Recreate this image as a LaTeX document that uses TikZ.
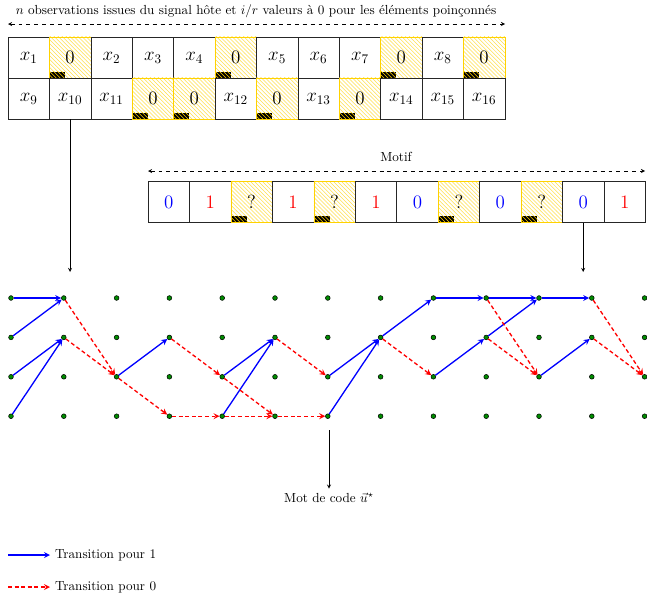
\documentclass[tikz,border=0pt]{standalone}
\usepackage{fontspec}
\usepackage{amsmath,amssymb}
\usepackage{xcolor}
\usepackage{tikz}
\usetikzlibrary{shapes,positioning,patterns}
\definecolor{gold}{RGB}{255,210,0}
\tikzset{cell/.style={rectangle,draw=black!85,minimum width=31.5pt,minimum height=31.2pt,inner sep=0pt,font=\Large},
  poinc/.style={cell,draw=gold,pattern=north west lines,pattern color=gold!70,
    path picture={\fill[black] (path picture bounding box.south west) rectangle ++(12pt,4.6pt);
      \fill[pattern=north west lines,pattern color=gold] (path picture bounding box.south west) rectangle ++(12pt,4.6pt);}},
  pt/.style={circle,draw=black,fill=green!55!black,inner sep=0pt,minimum size=3.6pt,line width=0.4pt},
  un/.style={->,blue,line width=1pt},
  zero/.style={->,red,line width=1pt,dash pattern=on 3pt off 2pt}}

\begin{document}
\begin{tikzpicture}[>=stealth,x=0.76pt,y=-0.76pt]
    \useasboundingbox (0,0) rectangle (647,598);

    % observations
    \node (titre) at (256,11) {$n$ observations issues du signal hôte et $i/r$ valeurs à 0 pour les éléments poinçonnés};
    \coordinate (tg) at (8,24);
    \coordinate (td) at (505,24);
    \draw [<->,dashed] (tg) to (td);

    \node[cell] (a1) at (28.7,57.5) {$x_1$};
    \node[poinc] (a2) at (70.1,57.5) {0};
    \node[cell] (a3) at (111.5,57.5) {$x_2$};
    \node[cell] (a4) at (152.9,57.5) {$x_3$};
    \node[cell] (a5) at (194.3,57.5) {$x_4$};
    \node[poinc] (a6) at (235.7,57.5) {0};
    \node[cell] (a7) at (277.1,57.5) {$x_5$};
    \node[cell] (a8) at (318.5,57.5) {$x_6$};
    \node[cell] (a9) at (359.9,57.5) {$x_7$};
    \node[poinc] (a10) at (401.3,57.5) {0};
    \node[cell] (a11) at (442.7,57.5) {$x_8$};
    \node[poinc] (a12) at (484.1,57.5) {0};

    \node[cell] (b1) at (28.7,98.5) {$x_9$};
    \node[cell] (b2) at (70.1,98.5) {$x_{10}$};
    \node[cell] (b3) at (111.5,98.5) {$x_{11}$};
    \node[poinc] (b4) at (152.9,98.5) {0};
    \node[poinc] (b5) at (194.3,98.5) {0};
    \node[cell] (b6) at (235.7,98.5) {$x_{12}$};
    \node[poinc] (b7) at (277.1,98.5) {0};
    \node[cell] (b8) at (318.5,98.5) {$x_{13}$};
    \node[poinc] (b9) at (359.9,98.5) {0};
    \node[cell] (b10) at (401.3,98.5) {$x_{14}$};
    \node[cell] (b11) at (442.7,98.5) {$x_{15}$};
    \node[cell] (b12) at (484.1,98.5) {$x_{16}$};

    % motif
    \node (motif) at (396,157) {Motif};
    \coordinate (mg) at (148,171);
    \coordinate (md) at (645,171);
    \draw [<->,dashed] (mg) to (md);

    \node[cell,text=blue] (m1) at (168.7,202) {0};
    \node[cell,text=red] (m2) at (210.2,202) {1};
    \node[poinc] (m3) at (251.6,202) {?};
    \node[cell,text=red] (m4) at (293.1,202) {1};
    \node[poinc] (m5) at (334.5,202) {?};
    \node[cell,text=red] (m6) at (376.0,202) {1};
    \node[cell,text=blue] (m7) at (417.4,202) {0};
    \node[poinc] (m8) at (458.9,202) {?};
    \node[cell,text=blue] (m9) at (500.3,202) {0};
    \node[poinc] (m10) at (541.8,202) {?};
    \node[cell,text=blue] (m11) at (583.2,202) {0};
    \node[cell,text=red] (m12) at (624.7,202) {1};

    \coordinate (fb) at (70.1,272);
    \coordinate (fm) at (583.2,272);
    \draw [->] (b2) to (fb);
    \draw [->] (m11) to (fm);

    % treillis
    \foreach \c in {0,...,12}
      \foreach \r in {0,...,3}
        \node[pt] (p\c-\r) at (11+52.8*\c,298+39.4*\r) {};

    \draw [un] (p0-0) to (p1-0);
    \draw [un] (p0-1) to (p1-0);
    \draw [un] (p0-2) to (p1-1);
    \draw [un] (p0-3) to (p1-1);
    \draw [un] (p2-2) to (p3-1);
    \draw [un] (p4-2) to (p5-1);
    \draw [un] (p4-3) to (p5-1);
    \draw [un] (p6-2) to (p7-1);
    \draw [un] (p6-3) to (p7-1);
    \draw [un] (p7-1) to (p8-0);
    \draw [un] (p8-0) to (p9-0);
    \draw [un] (p8-2) to (p9-1);
    \draw [un] (p9-0) to (p10-0);
    \draw [un] (p9-1) to (p10-0);
    \draw [un] (p10-0) to (p11-0);
    \draw [un] (p10-2) to (p11-1);

    \draw [zero] (p1-0) to (p2-2);
    \draw [zero] (p1-1) to (p2-2);
    \draw [zero] (p2-2) to (p3-3);
    \draw [zero] (p3-1) to (p4-2);
    \draw [zero] (p3-3) to (p4-3);
    \draw [zero] (p4-2) to (p5-3);
    \draw [zero] (p4-3) to (p5-3);
    \draw [zero] (p5-1) to (p6-2);
    \draw [zero] (p5-3) to (p6-3);
    \draw [zero] (p7-1) to (p8-2);
    \draw [zero] (p9-0) to (p10-2);
    \draw [zero] (p9-1) to (p10-2);
    \draw [zero] (p11-0) to (p12-2);
    \draw [zero] (p11-1) to (p12-2);

    \coordinate (ft) at (329,430);
    \node (mot) at (329,498) {Mot de code $\vec{u}^\star$};
    \draw [->] (ft) to (mot);

    % legende
    \coordinate (l1) at (8,555);
    \coordinate (l2) at (50,555);
    \coordinate (l3) at (8,587);
    \coordinate (l4) at (50,587);
    \draw [un] (l1) to node[pos=1,right,text=black]{Transition pour 1} (l2);
    \draw [zero] (l3) to node[pos=1,right,text=black]{Transition pour 0} (l4);
\end{tikzpicture}
\end{document}
